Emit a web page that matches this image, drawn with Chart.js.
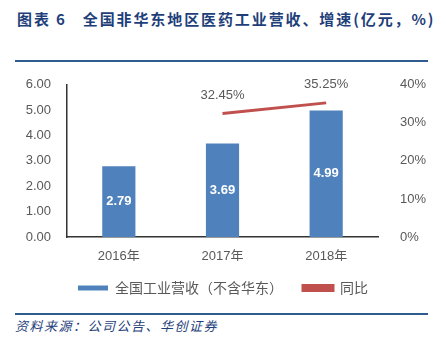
<!DOCTYPE html>
<html>
<head>
<meta charset="utf-8">
<script src="https://cdn.jsdelivr.net/npm/chart.js@4.4.0/dist/chart.umd.min.js"></script>
<style>
  body { margin: 0; width: 446px; height: 348px; background: #fff; position: relative; overflow: hidden; }
  #title { position: absolute; left: 17px; top: 8px; font: bold 15px "Noto Sans CJK SC", sans-serif; color: #1F3F7A; white-space: pre; letter-spacing: 1.9px; }
  .rule { position: absolute; left: 15px; width: 413px; height: 2px; background: #2E5C8E; }
  #src { position: absolute; left: 15px; top: 316px; font: italic 13px "Noto Sans CJK SC", sans-serif; color: #1F3F7A; letter-spacing: 1.5px; }
  #wrap { position: absolute; left: 0; top: 63px; width: 446px; height: 246px; }
</style>
</head>
<body>
<div id="title">图表 6   全国非华东地区医药工业营收、增速(亿元，%)</div>
<div class="rule" style="top:60px"></div>
<div id="wrap"><canvas id="myChart"></canvas></div>
<div class="rule" style="top:313px"></div>
<div id="src">资料来源：公司公告、华创证券</div>
<script>
// data
var years = ['2016年', '2017年', '2018年'];
var revenue = [2.79, 3.69, 4.99];
var growth = [null, 0.3245, 0.3525];

var grey = '#595959';
var latin = '"Liberation Sans", "Noto Sans CJK SC", sans-serif';

// labels on bars and line points
var valueLabels = {
  id: 'valueLabels',
  afterDatasetsDraw: function (chart) {
    var ctx = chart.ctx;
    ctx.save();
    ctx.textAlign = 'center';
    ctx.textBaseline = 'middle';
    chart.getDatasetMeta(0).data.forEach(function (bar, i) {
      ctx.font = 'bold 13px ' + latin;
      ctx.fillStyle = '#fff';
      ctx.fillText(revenue[i].toFixed(2), bar.x, (bar.y + bar.base) / 2);
    });
    chart.getDatasetMeta(1).data.forEach(function (pt, i) {
      if (growth[i] == null) return;
      ctx.font = '13px ' + latin;
      ctx.fillStyle = grey;
      ctx.fillText((growth[i] * 100).toFixed(2) + '%', pt.x, pt.y - 18);
    });
    ctx.restore();
  }
};

var ctx = document.getElementById('myChart').getContext('2d');
var chart = new Chart(ctx, {
  type: 'bar',
  data: {
    labels: years,
    datasets: [
      {
        label: '全国工业营收（不含华东）',
        data: revenue,
        backgroundColor: '#4F81BD',
        yAxisID: 'y',
        barPercentage: 0.32,
        categoryPercentage: 1,
        order: 2
      },
      {
        type: 'line',
        label: '同比',
        data: growth,
        borderColor: '#C0504D',
        backgroundColor: '#C0504D',
        borderWidth: 3,
        pointRadius: 0,
        yAxisID: 'y1',
        order: 1
      }
    ]
  },
  options: {
    responsive: true,
    maintainAspectRatio: false,
    animation: false,
    layout: { padding: { top: 19, bottom: 4 } },
    plugins: {
      tooltip: { enabled: false },
      legend: {
        position: 'bottom',
        labels: {
          boxWidth: 30,
          boxHeight: 5,
          padding: 20,
          color: grey,
          font: { family: '"Noto Sans CJK SC", sans-serif', size: 14 },
          sort: function (a, b) { return a.datasetIndex - b.datasetIndex; }
        }
      }
    },
    scales: {
      x: {
        grid: { display: false, drawTicks: false },
        border: { display: true, color: '#333', width: 1.5 },
        ticks: { color: grey, padding: 12, font: { family: latin, size: 13 } },
        afterFit: function (s) { s.height = 24; }
      },
      y: {
        position: 'left',
        min: 0, max: 6,
        grid: { display: false },
        border: { display: true, color: '#333', width: 1.5 },
        ticks: {
          stepSize: 1, color: grey, padding: 8,
          font: { family: latin, size: 13 },
          callback: function (v) { return v.toFixed(2); }
        },
        afterFit: function (s) { s.width = 67; }
      },
      y1: {
        position: 'right',
        min: 0, max: 0.4,
        grid: { display: false },
        border: { display: false },
        ticks: {
          stepSize: 0.1, color: grey, padding: 14,
          font: { family: latin, size: 13 },
          callback: function (v) { return Math.round(v * 100) + '%'; }
        },
        afterFit: function (s) { s.width = 68; }
      }
    }
  },
  plugins: [valueLabels]
});
</script>
</body>
</html>
